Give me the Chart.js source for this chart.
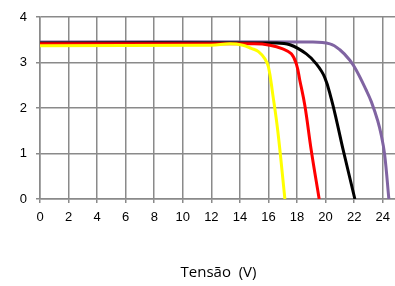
<!doctype html>
<html>
  <head>
    <meta charset="UTF-8">
    <title>Curva I-V</title>
    <script src="https://cdn.jsdelivr.net/npm/chart.js@4/dist/chart.umd.min.js"></script>
    <style>
      body {
        margin: 0;
        overflow: hidden;
        background: #fff;
      }
    </style>
  </head>
  <body>
    <canvas id="ivChart" width="400" height="286"></canvas>
    <script>
      // tensão (V) e corrente (A)
      var yellowV = [0, 12, 13.3, 14.2, 14.8, 15.3, 15.75, 16.0, 16.3, 16.65, 17.15]
      var yellowI = [3.37, 3.38, 3.41, 3.38, 3.31, 3.24, 3.08, 2.9, 2.3, 1.5, 0]
      var redV = [0, 15, 16.1, 17.0, 17.6, 17.95, 18.2, 18.55, 19.0, 19.55]
      var redI = [3.41, 3.41, 3.38, 3.3, 3.19, 2.97, 2.6, 2.05, 1.06, 0]
      var blackV = [0, 16.5, 17.5, 18.65, 19.35, 19.93, 20.4, 20.8, 21.2, 22.05]
      var blackI = [3.43, 3.43, 3.39, 3.19, 2.97, 2.68, 2.2, 1.68, 1.12, 0]
      var purpleV = [0, 19, 20.3, 21.0, 21.7, 22.15, 22.85, 23.2, 23.65, 23.9, 24.13, 24.43]
      var purpleI = [3.45, 3.45, 3.41, 3.28, 3.05, 2.83, 2.39, 2.14, 1.72, 1.4, 0.99, 0]
      var xTitle = 'Tensão  (V)'

      function pts(xs, ys) {
        var out = []
        for (var i = 0; i < xs.length; i++) {
          out.push({x: xs[i], y: ys[i]})
        }
        return out
      }

      function line(data, color) {
        return {
          data: data,
          borderColor: color,
          backgroundColor: color,
          borderWidth: 3,
          pointRadius: 0,
          showLine: true,
          tension: 0.4,
          fill: false
        }
      }

      var gridColor = '#8a8a8a'
      var ctx = document.getElementById('ivChart').getContext('2d')
      var myChart = new Chart(ctx, {
        type: 'scatter',
        data: {
          datasets: [
            line(pts(yellowV, yellowI), '#ffff00'),
            line(pts(redV, redI), '#ff0000'),
            line(pts(blackV, blackI), '#000000'),
            line(pts(purpleV, purpleI), '#8064a2')
          ]
        },
        options: {
          responsive: false,
          animation: false,
          layout: { padding: { top: 17, right: 3, left: 0, bottom: 0 } },
          plugins: {
            legend: { display: false },
            tooltip: { enabled: false }
          },
          scales: {
            x: {
              type: 'linear',
              min: 0,
              max: 25,
              afterFit: function(s) { s.height = 87 },
              ticks: {
                stepSize: 2,
                includeBounds: false,
                color: '#000',
                padding: 7,
                maxRotation: 0,
                font: { family: 'Liberation Sans', size: 13 }
              },
              grid: { color: gridColor, lineWidth: 1.5, tickLength: 4 },
              border: { color: gridColor, width: 1.5 },
              title: {
                display: true,
                text: xTitle,
                color: '#000',
                padding: { top: 0, bottom: 4 },
                font: { family: 'Open Sans', size: 15 }
              }
            },
            y: {
              min: 0,
              max: 4,
              afterFit: function(s) { s.width = 40 },
              ticks: {
                stepSize: 1,
                color: '#000',
                padding: 9,
                font: { family: 'Liberation Sans', size: 13 }
              },
              grid: { color: gridColor, lineWidth: 1.5, tickLength: 4 },
              border: { color: gridColor, width: 1.5 }
            }
          }
        }
      })
    </script>
  </body>
</html>
